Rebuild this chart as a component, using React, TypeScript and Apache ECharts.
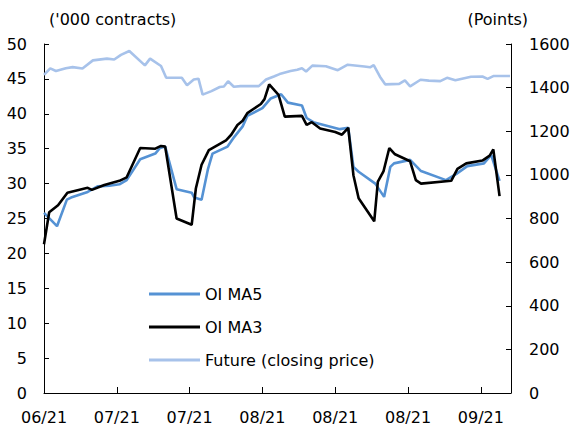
import React, { useEffect, useRef } from "react";
import * as echarts from "echarts";

// x positions are calendar-day offsets from the first observation (06/21)
const tickLabels = ["06/21", "07/21", "07/21", "08/21", "08/21", "08/21", "09/21"];
const TICK_STEP_DAYS = 14;
const X_MAX_DAYS = 89.8;

const ma5Days = [0, 2.5, 4.4, 5.2, 8.4, 10.3, 12.6, 14.5, 15.9, 18.5, 21.4, 22.3, 23.3, 25.5, 28.4, 28.9, 30.3, 31.5, 32.4, 35.3, 36.6, 38.2, 39.1, 42.0, 43.6, 45.6, 46.9, 49.6, 50.5, 51.8, 56.9, 58.5, 59.5, 60.5, 63.7, 65.4, 66.6, 67.3, 70.4, 72.5, 77.3, 79.3, 81.4, 84.6, 86.0, 87.6];
const ma5Values = [25.8, 23.9, 27.7, 28.0, 28.8, 29.6, 29.7, 29.9, 30.5, 33.5, 34.3, 35.1, 35.3, 29.2, 28.7, 28.0, 27.7, 32.0, 34.3, 35.3, 36.7, 38.2, 39.7, 40.8, 42.2, 42.8, 41.6, 41.2, 39.4, 38.8, 37.8, 38.0, 32.4, 31.7, 30.0, 28.1, 32.4, 32.9, 33.4, 31.8, 30.5, 31.4, 32.5, 32.9, 34.1, 30.4];

const ma3Days = [0, 1.0, 2.7, 4.5, 8.4, 9.2, 11.6, 14.5, 15.9, 18.5, 21.4, 22.5, 23.3, 25.5, 28.4, 29.2, 30.3, 31.7, 35.0, 36.0, 37.2, 38.2, 39.1, 41.7, 42.4, 43.3, 45.1, 46.3, 49.6, 50.5, 51.5, 53.1, 56.0, 57.3, 58.5, 59.5, 60.5, 63.5, 64.2, 65.3, 66.4, 67.5, 70.4, 71.5, 72.5, 78.3, 79.5, 81.2, 84.3, 85.7, 86.4, 87.6];
const ma3Values = [21.3, 25.9, 26.9, 28.7, 29.4, 29.1, 29.8, 30.4, 30.9, 35.1, 35.0, 35.4, 35.3, 25.0, 24.1, 29.3, 32.7, 34.8, 36.2, 37.0, 38.4, 39.0, 40.1, 41.4, 42.1, 44.2, 42.7, 39.6, 39.7, 38.4, 38.8, 37.9, 37.4, 37.0, 38.0, 31.2, 27.9, 24.6, 30.3, 31.8, 35.1, 34.2, 33.2, 30.5, 30.0, 30.4, 32.1, 32.9, 33.3, 34.0, 34.9, 28.2];

const futureDays = [0, 1.2, 2.3, 4.2, 5.5, 7.4, 9.4, 12.1, 13.5, 14.8, 16.4, 19.4, 20.4, 22.5, 23.5, 26.5, 27.5, 28.8, 29.7, 30.5, 32.2, 33.8, 34.6, 35.4, 36.5, 37.8, 41.3, 42.7, 44.2, 45.3, 47.4, 48.7, 49.6, 50.4, 51.6, 54.2, 56.5, 58.4, 61.6, 62.7, 63.4, 64.6, 65.6, 68.3, 69.4, 70.4, 72.4, 74.0, 76.2, 77.5, 79.1, 82.1, 84.3, 85.3, 86.4, 89.6];
const futureValues = [1458, 1488, 1476, 1489, 1494, 1488, 1525, 1533, 1529, 1550, 1568, 1502, 1533, 1499, 1445, 1445, 1411, 1437, 1441, 1368, 1384, 1403, 1405, 1429, 1404, 1407, 1407, 1437, 1451, 1462, 1476, 1482, 1489, 1474, 1501, 1498, 1480, 1505, 1497, 1493, 1503, 1450, 1415, 1417, 1433, 1406, 1436, 1432, 1430, 1445, 1434, 1450, 1451, 1440, 1453, 1453];

const FONT = "DejaVu Sans, Verdana, sans-serif";
const TEXT = "#000000";

function pairs(days: number[], values: number[]) {
  return days.map((d, i) => [d, values[i]]);
}

export default function App() {
  const ref = useRef<HTMLDivElement>(null);

  useEffect(() => {
    document.body.style.margin = "0";
    if (!ref.current) return;
    const chart = echarts.init(ref.current, undefined, { renderer: "svg" });
    const axisLine = { show: true, lineStyle: { color: "#000", width: 1 } };
    chart.setOption({
      animation: false,
      backgroundColor: "#ffffff",
      textStyle: { fontFamily: FONT },
      grid: { left: 44, right: 65, top: 44, bottom: 37, containLabel: false },
      legend: {
        orient: "vertical",
        left: 149,
        top: 286,
        padding: 0,
        icon: "rect",
        itemWidth: 51,
        itemHeight: 3,
        itemGap: 17,
        textStyle: { fontSize: 16, fontFamily: FONT, color: TEXT },
        data: ["OI MA5", "OI MA3", "Future (closing price)"],
      },
      graphic: [
        {
          type: "text",
          left: 49,
          top: 11,
          style: { text: "('000 contracts)", fontSize: 16, fontFamily: FONT, fill: TEXT },
        },
        {
          type: "text",
          right: 48,
          top: 11,
          style: { text: "(Points)", fontSize: 16, fontFamily: FONT, fill: TEXT },
        },
      ],
      xAxis: {
        type: "value",
        min: 0,
        max: X_MAX_DAYS,
        interval: TICK_STEP_DAYS,
        axisLine,
        axisTick: { show: true, inside: true, length: 6, lineStyle: { color: "#000" } },
        splitLine: { show: false },
        axisLabel: {
          margin: 16,
          fontSize: 16,
          fontFamily: FONT,
          color: TEXT,
          showMaxLabel: false,
          formatter: (v: number) => {
            const i = Math.round(v / TICK_STEP_DAYS);
            return Math.abs(v - i * TICK_STEP_DAYS) < 1e-6 && i < tickLabels.length ? tickLabels[i] : "";
          },
        },
      },
      yAxis: [
        {
          type: "value",
          min: 0,
          max: 50,
          interval: 5,
          position: "left",
          axisLine,
          axisTick: { show: true, inside: true, length: 5, lineStyle: { color: "#000" } },
          splitLine: { show: false },
          axisLabel: { margin: 17, fontSize: 16, fontFamily: FONT, color: TEXT, formatter: (v: number) => String(v) },
        },
        {
          type: "value",
          min: 0,
          max: 1600,
          interval: 200,
          position: "right",
          axisLine,
          axisTick: { show: true, inside: true, length: 5, lineStyle: { color: "#000" } },
          splitLine: { show: false },
          axisLabel: { margin: 18, fontSize: 16, fontFamily: FONT, color: TEXT, formatter: (v: number) => String(v) },
        },
      ],
      series: [
        {
          name: "OI MA5",
          type: "line",
          yAxisIndex: 0,
          symbol: "none",
          data: pairs(ma5Days, ma5Values),
          lineStyle: { color: "#5592d4", width: 2.6 },
          itemStyle: { color: "#5592d4" },
          z: 3,
        },
        {
          name: "OI MA3",
          type: "line",
          yAxisIndex: 0,
          symbol: "none",
          data: pairs(ma3Days, ma3Values),
          lineStyle: { color: "#000000", width: 2.6 },
          itemStyle: { color: "#000000" },
          z: 4,
        },
        {
          name: "Future (closing price)",
          type: "line",
          yAxisIndex: 1,
          symbol: "none",
          data: pairs(futureDays, futureValues),
          lineStyle: { color: "#a7c2ea", width: 2.6 },
          itemStyle: { color: "#a7c2ea" },
          z: 2,
        },
      ],
    });
    return () => chart.dispose();
  }, []);

  return <div ref={ref} style={{ width: 576, height: 430 }} />;
}
